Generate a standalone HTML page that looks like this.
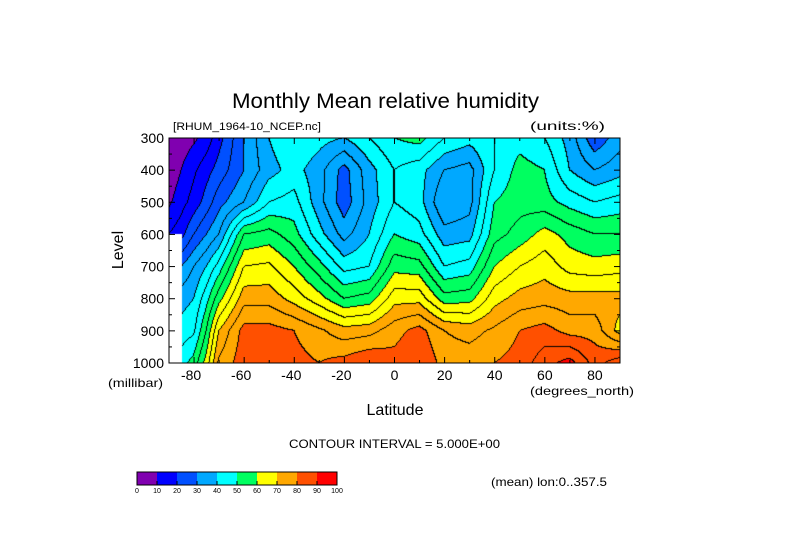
<!DOCTYPE html>
<html><head><meta charset="utf-8"><style>
html,body{margin:0;padding:0;background:#fff;}
#wrap{position:relative;width:789px;height:558px;overflow:hidden;}
svg text{font-family:"Liberation Sans",sans-serif;fill:#000;}
</style></head><body>
<div id="wrap">
<canvas id="cv" width="451" height="225" style="position:absolute;left:169px;top:138px"></canvas>
<svg id="sv" width="789" height="558" style="position:absolute;left:0;top:0">
<text x="232" y="108" font-size="21" textLength="307" lengthAdjust="spacingAndGlyphs" font-weight="300">Monthly Mean relative humidity</text>
<text x="173" y="130" font-size="11" textLength="148" lengthAdjust="spacingAndGlyphs">[RHUM_1964-10_NCEP.nc]</text>
<text x="530" y="130" font-size="12" textLength="75" lengthAdjust="spacingAndGlyphs">(units:%)</text>
<text transform="translate(123,250) rotate(-90)" text-anchor="middle" font-size="16">Level</text>
<text x="108" y="387" font-size="12" textLength="55" lengthAdjust="spacingAndGlyphs">(millibar)</text>
<text x="530" y="395" font-size="12" textLength="104" lengthAdjust="spacingAndGlyphs">(degrees_north)</text>
<text x="395" y="415" text-anchor="middle" font-size="16">Latitude</text>
<text x="289" y="448" font-size="12" textLength="211" lengthAdjust="spacingAndGlyphs">CONTOUR INTERVAL = 5.000E+00</text>
<text x="491" y="486" font-size="12" textLength="116" lengthAdjust="spacingAndGlyphs">(mean) lon:0..357.5</text>
<g id="axes"></g>
<g id="cbar"></g>
</svg>
</div>
<script>
const lats=[-90,-85,-80,-75,-70,-60,-50,-40,-30,-20,-10,0,10,20,30,40,50,60,70,80,90];
const levels=[300,400,500,600,700,800,900,1000];
const N=NaN;
const rh300=[5,7,9,12,18,30,40,45,42,40,45,50,52,45,42,45,48,45,38,26,33];
const rh400=[6,10,14,18,22,30,38,42,37,28,38,45,42,35,33,45,52,50,40,35,38];
const rh500=[9,13,17,22,28,35,45,47,37,27,37,45,42,30,33,50,53,52,48,45,47];
const rh600=[15,18,25,30,35,55,57,52,42,33,40,50,47,37,38,53,57,62,58,55,55];
const rh700=[N,30,35,40,47,65,66,60,52,43,45,58,57,45,47,60,65,68,63,62,63];
const rh800=[N,38,40,48,58,73,73,68,62,55,57,68,68,57,58,68,72,73,72,72,72];
const rh900=[N,42,44,55,70,82,82,80,76,72,73,78,82,75,73,76,80,82,78,78,68];
const rh1000=[N,48,52,62,76,83,83,82,80,82,85,82,85,78,78,80,82,88,92,83,88];
const grid=[rh300,rh400,rh500,rh600,rh700,rh800,rh900,rh1000];
const colors=["#8000b0","#0000ff","#0050ff","#00a8ff","#00ffff","#00ff60","#ffff00","#ffa800","#ff5000","#ff0000"];
const cbarTicks=[0,10,20,30,40,50,60,70,80,90,100];
const xTicks=[-80,-60,-40,-20,0,20,40,60,80];
const yTicks=[300,400,500,600,700,800,900,1000];

const X0=169,W=451,Y0=138,H=225;
const xs=lat=>X0+(lat+90)/180*W;
const ys=p=>Y0+(p-300)/700*H;
const latOf=px=>-90+px/W*180;
const pOf=py=>300+py/H*700;

function valueAt(lat,p){
  let i=0;while(i<lats.length-2&&lat>lats[i+1])i++;
  let j=0;while(j<levels.length-2&&p>levels[j+1])j++;
  const tx=(lat-lats[i])/(lats[i+1]-lats[i]),ty=(p-levels[j])/(levels[j+1]-levels[j]);
  const a=grid[j][i],b=grid[j][i+1],c=grid[j+1][i],d=grid[j+1][i+1];
  return a*(1-tx)*(1-ty)+b*tx*(1-ty)+c*(1-tx)*ty+d*tx*ty;
}
const cv=document.getElementById('cv'),ctx=cv.getContext('2d');
const img=ctx.createImageData(W,H);
const bins=[];
for(let y=0;y<H;y++){bins.push([]);for(let x=0;x<W;x++){const v=valueAt(latOf(x+0.5),pOf(y+0.5));bins[y].push(isNaN(v)?-1:Math.min(19,Math.max(0,Math.floor(v/5))));}}
function hex(h){return [parseInt(h.substr(1,2),16),parseInt(h.substr(3,2),16),parseInt(h.substr(5,2),16)];}
const rgb=colors.map(hex);
for(let y=0;y<H;y++)for(let x=0;x<W;x++){
  const b=bins[y][x];let c;
  if(b<0)c=[255,255,255];
  else{
    const edge=(x+1<W&&bins[y][x+1]>=0&&bins[y][x+1]!==b)||(y+1<H&&bins[y+1][x]>=0&&bins[y+1][x]!==b);
    c=edge?[0,0,0]:rgb[Math.floor(b/2)];
  }
  const k=(y*W+x)*4;img.data[k]=c[0];img.data[k+1]=c[1];img.data[k+2]=c[2];img.data[k+3]=255;
}
ctx.putImageData(img,0,0);

const NS='http://www.w3.org/2000/svg';
const ax=document.getElementById('axes');
function el(t,a,p){const e=document.createElementNS(NS,t);for(const k in a)e.setAttribute(k,a[k]);p.appendChild(e);return e;}
const frame=el('rect',{x:X0,y:Y0,width:W,height:H,fill:'none',stroke:'#000','stroke-width':1},ax);


for(let lat=-90;lat<=90;lat+=10){
  const x=xs(lat),L=(lat%20===0)?6:3;
  const t1=el('line',{x1:x,y1:Y0+H,x2:x,y2:Y0+H-L,stroke:'#000'},ax);
  
  
  const t2=el('line',{x1:x,y1:Y0,x2:x,y2:Y0+L,stroke:'#000'},ax);
  
  
}
for(let p=300;p<=1000;p+=50){
  const y=ys(p),L=(p%100===0)?6:3;
  const t1=el('line',{x1:X0,y1:y,x2:X0+L,y2:y,stroke:'#000'},ax);
  
  
  const t2=el('line',{x1:X0+W,y1:y,x2:X0+W-L,y2:y,stroke:'#000'},ax);
  
  
}
xTicks.forEach(v=>{
  const t=el('text',{x:xs(v)+(v<0?-3:0),y:380,'text-anchor':'middle','font-size':14},ax);
  t.textContent=String(v);
  
  
});
yTicks.forEach(v=>{
  const t=el('text',{x:164,y:ys(v)+5,'text-anchor':'end','font-size':14},ax);
  t.textContent=String(v);
  
  
});
const cb=document.getElementById('cbar');
const CX=137,CW=200,CY=472,CH=13;
colors.forEach((c,i)=>{
  const r=el('rect',{x:CX+i*CW/colors.length,y:CY,width:CW/colors.length,height:CH,fill:c},cb);
  
  
});
const cf=el('rect',{x:CX,y:CY,width:CW,height:CH,fill:'none',stroke:'#000'},cb);


cbarTicks.forEach(v=>{
  const x=CX+v/100*CW;
  const l=el('line',{x1:x,y1:CY+CH,x2:x,y2:CY+CH-4,stroke:'#000'},cb);
  
  
  const t=el('text',{x:x,y:493,'text-anchor':'middle','font-size':7},cb);
  t.textContent=String(v);
  
  
});
</script>
</body></html>
